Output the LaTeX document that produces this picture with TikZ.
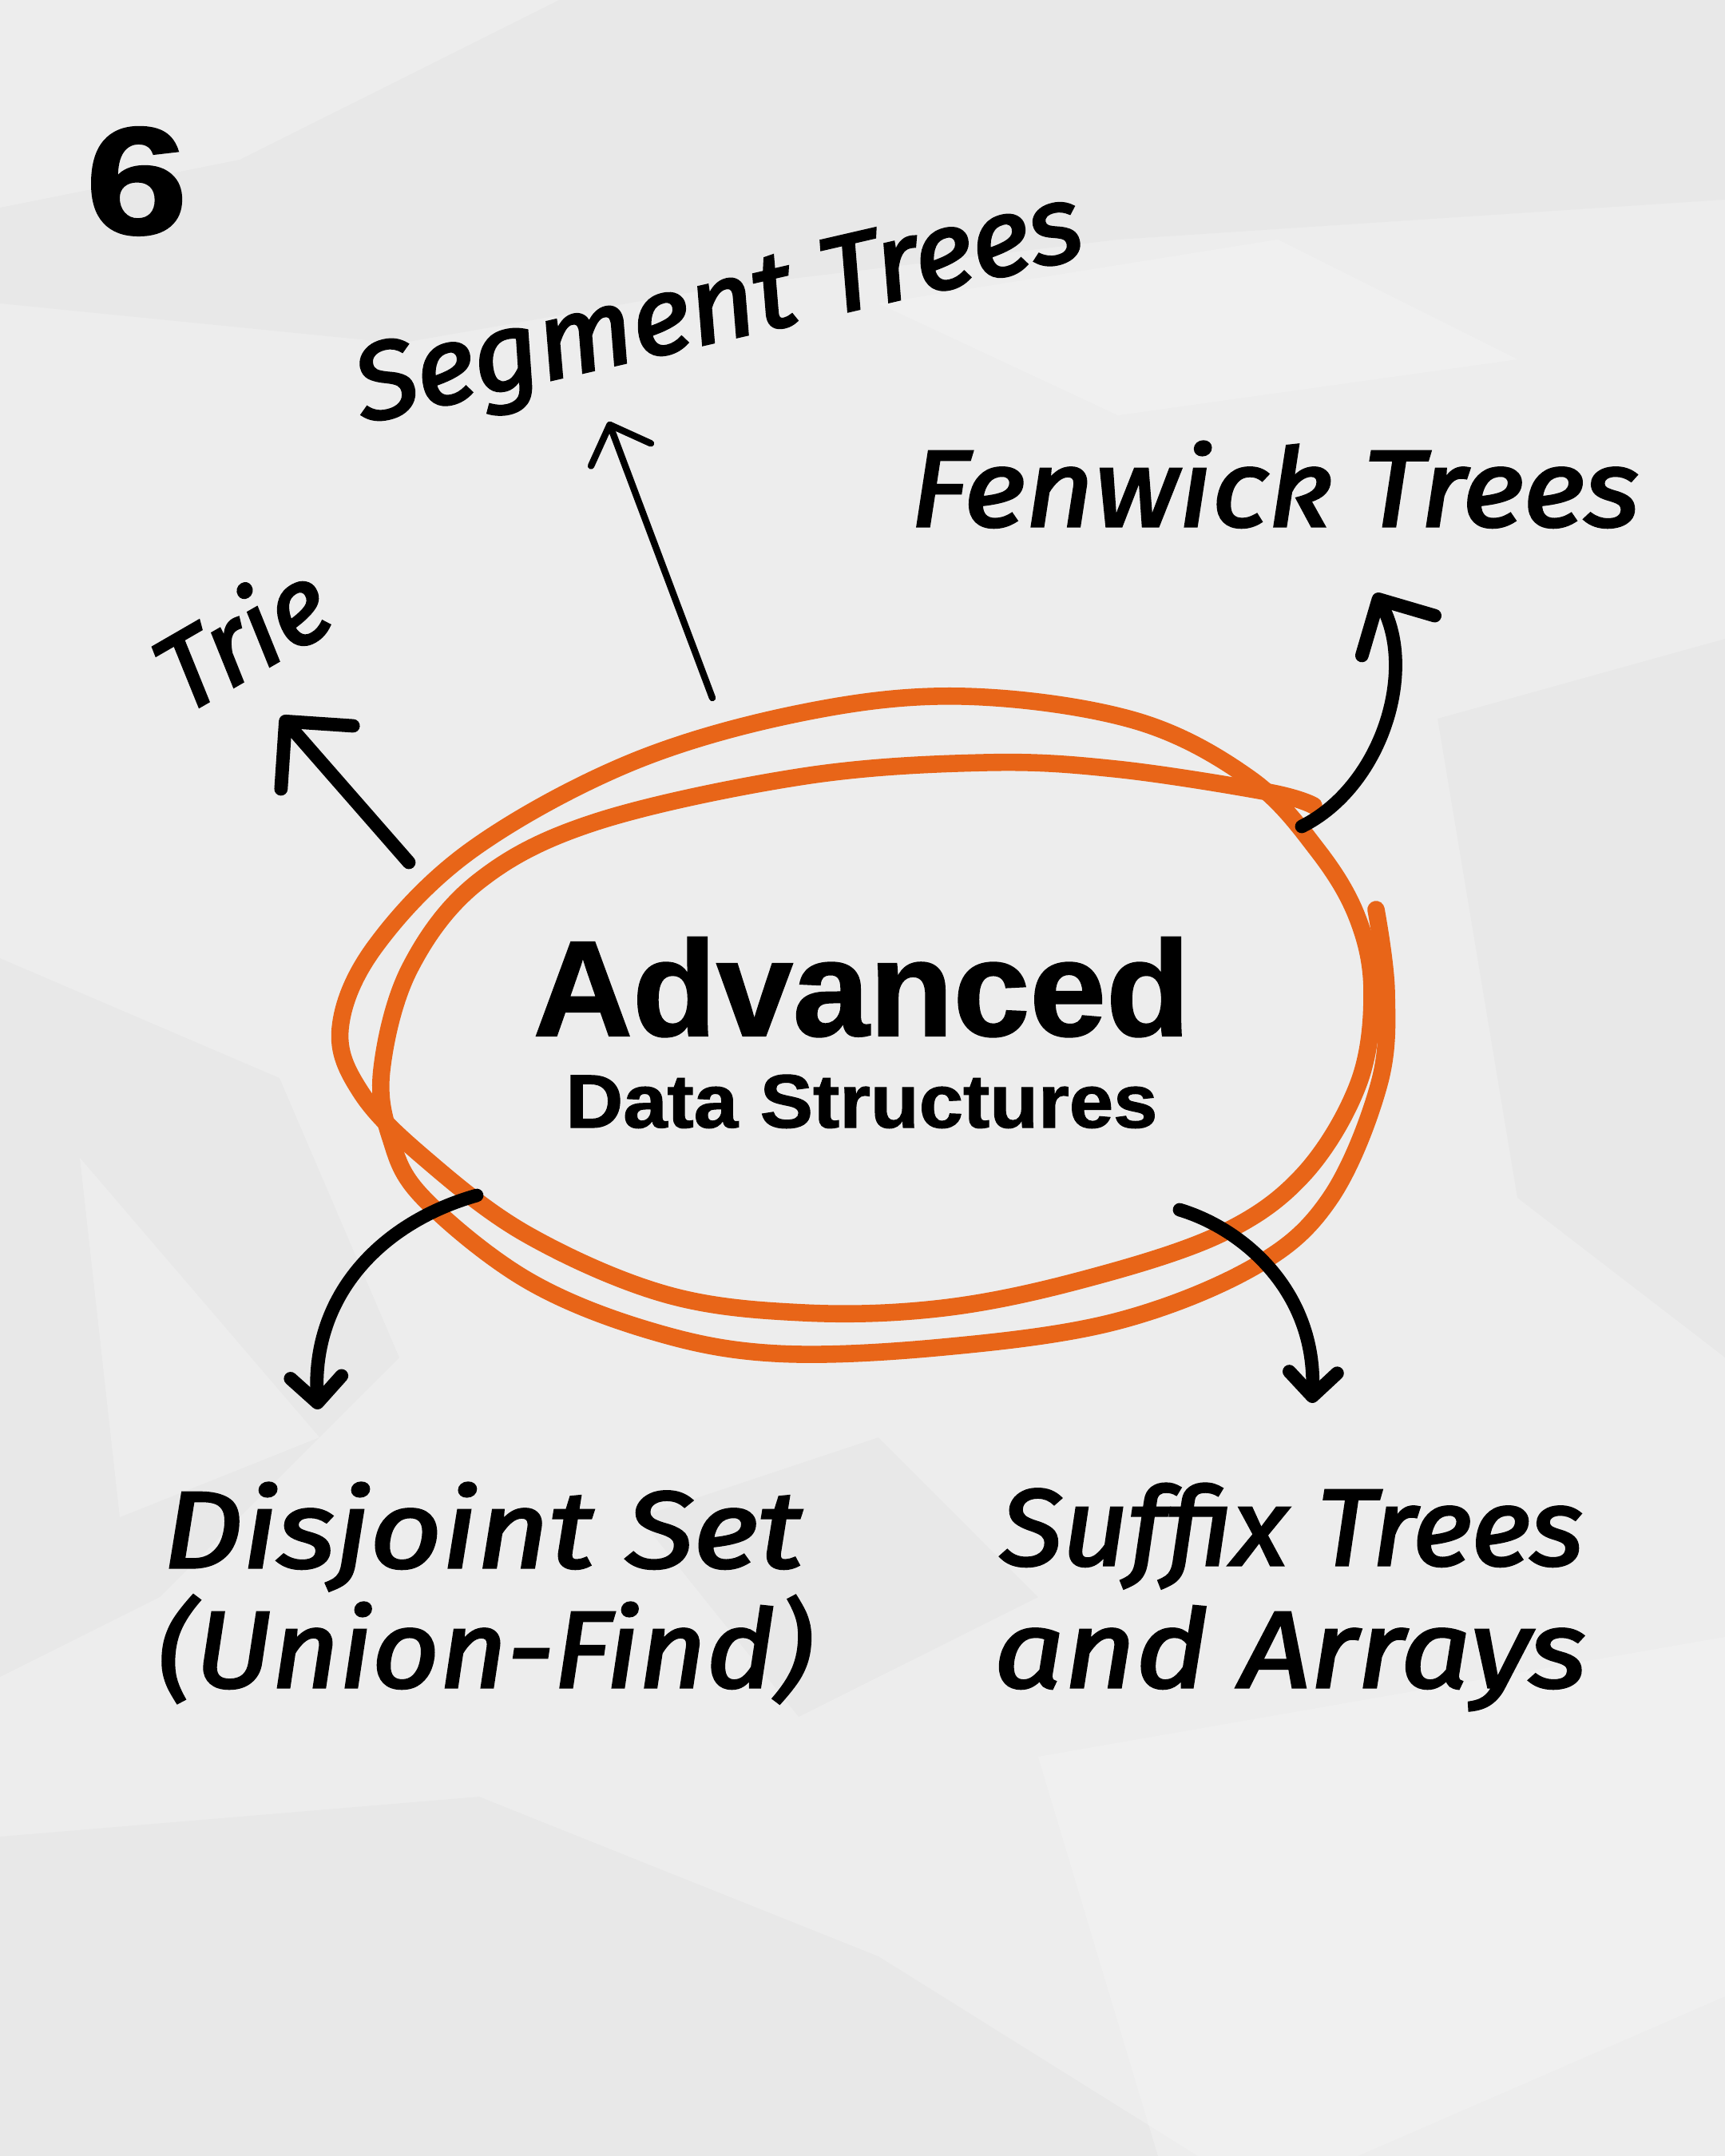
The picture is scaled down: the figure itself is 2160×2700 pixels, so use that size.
\documentclass[tikz,border=0pt]{standalone}
\usepackage{fontspec}
\setmainfont{Liberation Sans}[BoldFeatures={FakeBold=1.2}]
\newfontfamily\handfont{Fira Sans}[ItalicFeatures={FakeBold=2.4}]
\usetikzlibrary{arrows.meta}
\definecolor{paper}{RGB}{237,237,237}
\definecolor{marker}{RGB}{232,101,24}
\begin{document}
\begin{tikzpicture}[x=0.25pt,y=-0.25pt,
  crease/.style={fill=black,opacity=0.018},
  gloss/.style={fill=white,opacity=0.22},
  ring/.style={draw=marker,line width=5.4pt,line cap=round,line join=round},
  hand/.style={inner sep=0pt,anchor=base west,font=\handfont\itshape\fontsize{34pt}{36pt}\selectfont},
  pen/.style={draw=black,line width=4.2pt,line cap=round},
  barb/.style={-{Straight Barb[length=#1,width=2*#1,round]}},
]
\useasboundingbox (0,0) rectangle (2160,2700);
% crumpled paper
\fill[paper] (0,0) rectangle (2160,2700);
\fill[crease] (0,380) -- (500,430) -- (900,360) -- (1400,300) -- (2160,250) -- (2160,0) -- (0,0) -- cycle;
\fill[gloss] (0,0) -- (700,0) -- (300,200) -- (0,260) -- cycle;
\fill[crease] (0,1200) -- (350,1350) -- (500,1700) -- (200,2000) -- (0,2100) -- cycle;
\fill[crease] (0,2300) -- (600,2250) -- (1100,2450) -- (1500,2700) -- (0,2700) -- cycle;
\fill[gloss] (1300,2200) -- (2160,2050) -- (2160,2500) -- (1700,2700) -- (1450,2700) -- cycle;
\fill[crease] (1800,900) -- (2160,800) -- (2160,1700) -- (1900,1500) -- cycle;
\fill[gloss] (1100,380) -- (1600,300) -- (1900,450) -- (1400,520) -- cycle;
\fill[crease] (800,1900) -- (1100,1800) -- (1300,2000) -- (1000,2150) -- cycle;
\fill[gloss] (100,1450) -- (400,1800) -- (150,1900) -- cycle;

% orange double loop around the title
\path[ring] plot[smooth cycle,tension=0.6] coordinates {
  (426,1288) (470,1185) (591,1064) (790,955) (1007,892) (1207,872)
  (1420,902) (1565,975) (1650,1065) (1700,1150) (1718,1242) (1701,1357)
  (1632,1471) (1527,1546) (1354,1603) (1181,1638) (1007,1644) (834,1621)
  (660,1546) (530,1449) (452,1368)};
\path[ring] plot[smooth,tension=0.6] coordinates {
  (1645,1009) (1588,992) (1397,963) (1233,955) (1007,972) (747,1029)
  (599,1104) (513,1213) (478,1340) (489,1425) (530,1500)
  (660,1603) (816,1667) (972,1695) (1181,1687) (1397,1655) (1571,1586)
  (1666,1500) (1727,1357) (1736,1242) (1723,1139)};

% title
\node[inner sep=0pt,anchor=base,font=\bfseries\fontsize{42.6pt}{45pt}\selectfont,xscale=1.01] (adv) at (1079,1297) {Advanced};
\node[inner sep=0pt,anchor=base,font=\bfseries\fontsize{23.7pt}{26pt}\selectfont,xscale=1.05] (dsub) at (1079,1412) {Data Structures};

% slide number
\node[inner sep=0pt,anchor=base west,font=\bfseries\fontsize{48pt}{50pt}\selectfont,xscale=1.2] (num) at (106,293) {6};

% handwritten labels
\node[hand,rotate=13,xscale=1.05] (seg) at (455,530) {Segment Trees};
\node[hand,xscale=1.094] (fen) at (1139,659) {Fenwick Trees};
\node[hand,rotate=30] (trie) at (229,897) {Trie};
\node[hand,xscale=1.15] (dsj) at (203,1963) {Disjoint Set};
\node[hand,xscale=1.075] (uf) at (197,2113) {(Union-Find)};
\node[hand,xscale=1.055] (suf) at (1252,1960) {Suffix Trees};
\node[hand,xscale=1.136] (arr) at (1244,2113) {and Arrays};

% arrow ends
\coordinate (trieFrom) at (512,1080);  \coordinate (trieTo) at (352,897);
\coordinate (segFrom) at (892,874);    \coordinate (segTo) at (762,528);
\coordinate (fenFrom) at (1630,1035);  \coordinate (fenTo) at (1722,743);
\coordinate (dsjFrom) at (597,1497);   \coordinate (dsjTo) at (398,1765);
\coordinate (sufFrom) at (1477,1515);  \coordinate (sufTo) at (1643,1757);

% arrows
\draw[pen,barb=15pt] (trieFrom) -- (trieTo);
\draw[pen,line width=2.1pt,barb=10pt] (segFrom) -- (segTo);
\draw[pen,barb=13pt] (fenFrom) .. controls (1730,985) and (1775,840) .. (fenTo);
\draw[pen,barb=8pt] (dsjFrom) .. controls (480,1530) and (390,1620) .. (dsjTo);
\draw[pen,barb=7.5pt] (sufFrom) .. controls (1560,1540) and (1648,1620) .. (sufTo);
\end{tikzpicture}
\end{document}
